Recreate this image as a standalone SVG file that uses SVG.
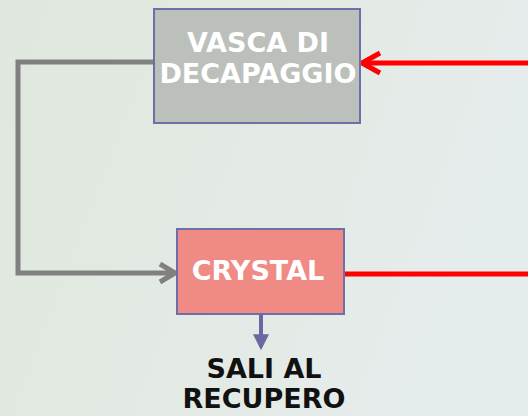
<svg xmlns="http://www.w3.org/2000/svg" width="528" height="416" viewBox="0 0 528 416">
  <defs>
    <linearGradient id="bg" x1="0" y1="0" x2="1" y2="0.3">
      <stop offset="0" stop-color="#e0e7de"/>
      <stop offset="0.5" stop-color="#e3eae3"/>
      <stop offset="1" stop-color="#e5ecec"/>
    </linearGradient>
    <marker id="ahPurple" markerWidth="4" markerHeight="4" refX="3.2" refY="2" orient="auto" markerUnits="strokeWidth">
      <path d="M0,0 L4,2 L0,4 Z" fill="#6a68a0"/>
    </marker>
  </defs>
  <style>
    .box { stroke: #6f6ea8; stroke-width: 2; }
    .lbl { font-family: "DejaVu Sans", Verdana, sans-serif; font-weight: bold; font-size: 27px; text-anchor: middle; }
    .white { fill: #ffffff; }
    .black { fill: #111111; }
    .red { stroke: #ff0000; stroke-width: 5; fill: none; }
    .gray { stroke: #808080; stroke-width: 5; fill: none; }
  </style>
  <rect width="528" height="416" fill="url(#bg)"/>

  <g id="connectors">
    <line class="red" x1="528" y1="63" x2="362" y2="63"/>
    <polyline class="red" points="380,53 362,63 380,73" stroke-linejoin="miter"/>
    <polyline class="gray" points="157,62 18,62 18,273 174,273"/>
    <polyline class="gray" points="160,264 175,273 160,282"/>
    <line class="red" x1="344" y1="274" x2="528" y2="274"/>
    <line x1="261" y1="315" x2="261" y2="347" stroke="#6a68a0" stroke-width="4" marker-end="url(#ahPurple)"/>
  </g>

  <g id="vasca">
    <rect class="box" x="154" y="9" width="206" height="114" fill="#bcc0ba"/>
    <text class="lbl white" x="258" y="52">VASCA DI</text>
    <text class="lbl white" x="258" y="83">DECAPAGGIO</text>
  </g>

  <g id="crystal">
    <rect class="box" x="177" y="229" width="167" height="85" fill="#ef8a85"/>
    <text class="lbl white" x="258" y="280">CRYSTAL</text>
  </g>

  <g id="sali">
    <text class="lbl black" x="264" y="378">SALI AL</text>
    <text class="lbl black" x="264" y="408">RECUPERO</text>
  </g>
</svg>
